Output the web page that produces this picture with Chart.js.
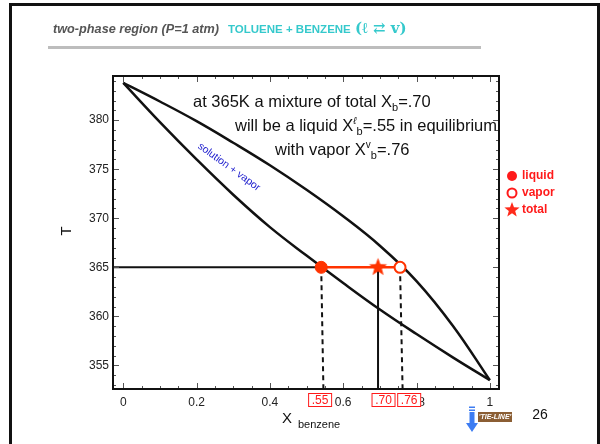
<!DOCTYPE html>
<html>
<head>
<meta charset="utf-8">
<script src="https://cdn.jsdelivr.net/npm/chart.js@4.4.1/dist/chart.umd.min.js"></script>
<style>
  html, body { margin: 0; padding: 0; background: #fff; }
  #wrap { width: 600px; height: 444px; }
</style>
</head>
<body>
<div id="wrap"><canvas id="myChart" width="600" height="444"></canvas></div>
<script>
// composition grid (mole fraction benzene) and the two curves
const xBenzene = [0, 0.1, 0.2, 0.3, 0.4, 0.5, 0.6, 0.7, 0.8, 0.9, 1.0];
const tLiquid  = [383.8, 379.8, 376.0, 372.4, 369.1, 366.2, 363.4, 360.7, 358.2, 355.8, 353.5];
const tVapor   = [383.8, 381.9, 379.9, 377.7, 375.4, 372.9, 370.2, 367.2, 363.6, 359.0, 353.5];

// tie-line at 365 K
const tieT = 365;
const xLiq = 0.54;
const xTot = 0.695;
const xVap = 0.755;
const boxLabels = ['.55', '.70', '.76'];
const boxX = [0.537, 0.71, 0.78];

const xTicks = [0, 0.2, 0.4, 0.6, 0.8, 1];
const yTicks = [355, 360, 365, 370, 375, 380];
const xMin = -0.028, xMax = 1.025;
const yMin = 352.6, yMax = 384.5;

const RED = '#ff3300';
const FONT = '"Liberation Sans", Arial, sans-serif';

function pts(xs, ys) {
  return xs.map((v, i) => ({ x: v, y: ys[i] }));
}

// filled 5 point star for the "total" marker
function makeStar(r, color) {
  const c = document.createElement('canvas');
  c.width = c.height = r * 2 + 2;
  const g = c.getContext('2d');
  g.translate(r + 1, r + 1);
  g.beginPath();
  for (let i = 0; i < 10; i++) {
    const rr = i % 2 === 0 ? r : r * 0.42;
    const a = -Math.PI / 2 + i * Math.PI / 5;
    g.lineTo(rr * Math.cos(a), rr * Math.sin(a));
  }
  g.closePath();
  g.fillStyle = color;
  g.fill();
  return c;
}
const starImg = makeStar(9.5, RED);
const starSmall = makeStar(8, '#ff2a1a');

const decor = {
  id: 'decor',
  beforeDraw(chart) {
    const ctx = chart.ctx;
    ctx.save();
    ctx.fillStyle = '#fff';
    ctx.fillRect(0, 0, 600, 444);
    // slide border
    ctx.fillStyle = '#111';
    ctx.fillRect(9, 3, 591, 3);
    ctx.fillRect(9, 3, 3, 441);
    ctx.fillRect(597, 3, 3, 441);
    // title
    ctx.textBaseline = 'alphabetic';
    ctx.textAlign = 'left';
    ctx.fillStyle = '#555';
    ctx.font = 'italic bold 12.7px ' + FONT;
    ctx.fillText('two-phase region (P=1 atm)', 53, 33);
    ctx.fillStyle = '#35c9cc';
    ctx.font = 'bold 11.5px ' + FONT;
    ctx.fillText('TOLUENE + BENZENE', 228, 33);
    ctx.font = 'bold 15px "DejaVu Serif", serif';
    ctx.fillText('(\u2113 \u21c4 v)', 355, 33);
    ctx.fillStyle = '#bdbdbd';
    ctx.fillRect(48, 46, 433, 3);
    ctx.restore();
  },
  afterDraw(chart) {
    const { ctx, chartArea: a, scales: { x, y } } = chart;
    ctx.save();
    // inward ticks on all four sides
    ctx.strokeStyle = '#555';
    ctx.lineWidth = 1;
    ctx.beginPath();
    for (let k = 0; k <= 20; k++) {
      const px = Math.round(x.getPixelForValue(k * 0.05)) + 0.5;
      const len = k % 4 === 0 ? 6 : 3;
      ctx.moveTo(px, a.bottom); ctx.lineTo(px, a.bottom - len);
      ctx.moveTo(px, a.top); ctx.lineTo(px, a.top + len);
    }
    for (let t = 353; t <= 384; t++) {
      const py = Math.round(y.getPixelForValue(t)) + 0.5;
      const len = t % 5 === 0 ? 6 : 3;
      ctx.moveTo(a.left, py); ctx.lineTo(a.left + len, py);
      ctx.moveTo(a.right, py); ctx.lineTo(a.right - len, py);
    }
    ctx.stroke();
    // frame
    ctx.strokeStyle = '#111';
    ctx.lineWidth = 2;
    ctx.strokeRect(a.left, a.top, a.right - a.left, a.bottom - a.top);

    // annotation text
    ctx.fillStyle = '#111';
    ctx.textAlign = 'left';
    ctx.textBaseline = 'alphabetic';
    const big = '16.5px ' + FONT, small = '11px ' + FONT;
    function run(parts, x0, y0) {
      let cx = x0;
      parts.forEach(p => {
        ctx.font = p.f || big;
        ctx.fillText(p.t, cx, y0 + (p.dy || 0));
        cx += ctx.measureText(p.t).width;
      });
    }
    run([{ t: 'at 365K a mixture of total X' }, { t: 'b', f: small, dy: 4 }, { t: '=.70' }], 193, 107);
    run([{ t: 'will be a liquid X' }, { t: '\u2113', f: 'italic 10px ' + FONT, dy: -7 }, { t: 'b', f: small, dy: 4 }, { t: '=.55 in equilibrium' }], 235, 131);
    run([{ t: 'with vapor X' }, { t: 'v', f: '10px ' + FONT, dy: -7 }, { t: 'b', f: small, dy: 4 }, { t: '=.76' }], 275, 155);

    // region label
    ctx.save();
    ctx.translate(229, 167);
    ctx.rotate(36 * Math.PI / 180);
    ctx.fillStyle = '#1a1acc';
    ctx.font = '10.5px ' + FONT;
    ctx.textAlign = 'center';
    ctx.textBaseline = 'middle';
    ctx.fillText('solution + vapor', 0, 0);
    ctx.restore();

    // boxed composition labels under the axis
    ctx.font = '12px ' + FONT;
    ctx.textAlign = 'center';
    ctx.textBaseline = 'middle';
    boxLabels.forEach((lab, i) => {
      const cx = x.getPixelForValue(boxX[i]);
      ctx.fillStyle = '#fff';
      ctx.fillRect(cx - 12, 393, 24, 14);
      ctx.strokeStyle = '#ff1a1a';
      ctx.lineWidth = 1;
      ctx.strokeRect(cx - 12 + 0.5, 393.5, 23, 13);
      ctx.fillStyle = '#ff1a1a';
      ctx.fillText(lab, cx, 400.5);
    });

    // axis titles
    ctx.fillStyle = '#111';
    ctx.textAlign = 'left';
    ctx.textBaseline = 'alphabetic';
    ctx.font = '15px ' + FONT;
    ctx.fillText('X', 282, 423);
    ctx.font = '11px ' + FONT;
    ctx.fillText('benzene', 298, 428);
    ctx.save();
    ctx.translate(67, 231);
    ctx.rotate(-Math.PI / 2);
    ctx.font = '15px ' + FONT;
    ctx.textAlign = 'center';
    ctx.textBaseline = 'middle';
    ctx.fillText('T', 0, 0);
    ctx.restore();

    // legend
    ctx.fillStyle = '#ff1a1a';
    ctx.strokeStyle = '#ff1a1a';
    ctx.beginPath(); ctx.arc(512, 176, 5, 0, Math.PI * 2); ctx.fill();
    ctx.lineWidth = 2;
    ctx.beginPath(); ctx.arc(512, 193, 4.5, 0, Math.PI * 2); ctx.stroke();
    ctx.drawImage(starSmall, 512 - 9, 210 - 9);
    ctx.font = 'bold 12px ' + FONT;
    ctx.textBaseline = 'middle';
    ctx.fillText('liquid', 522, 176);
    ctx.fillText('vapor', 522, 193);
    ctx.fillText('total', 522, 210);

    // page footer: arrow, tag, page number
    ctx.fillStyle = '#3d7cf2';
    ctx.fillRect(469, 406.5, 6, 1.5);
    ctx.fillRect(469, 409.5, 6, 1.5);
    ctx.fillRect(469.5, 412, 5, 12);
    ctx.beginPath();
    ctx.moveTo(466, 423); ctx.lineTo(478, 423); ctx.lineTo(472, 432); ctx.closePath();
    ctx.fill();
    ctx.fillStyle = '#8b5e34';
    ctx.fillRect(478, 412, 34, 10);
    ctx.fillStyle = '#fff';
    ctx.font = 'italic bold 7px ' + FONT;
    ctx.textAlign = 'center';
    ctx.fillText("'TIE-LINE'", 495, 417.5);
    ctx.fillStyle = '#111';
    ctx.font = '14px ' + FONT;
    ctx.fillText('26', 540, 415);
    ctx.restore();
  }
};

const myChart = document.getElementById('myChart');
new Chart(myChart, {
  type: 'scatter',
  data: {
    datasets: [
      { // total
        data: [{ x: xTot, y: tieT }],
        pointStyle: starImg, pointRadius: 9, showLine: false
      },
      { // vapor end
        data: [{ x: xVap, y: tieT }],
        pointRadius: 5.5, pointBackgroundColor: '#fff', pointBorderColor: RED, pointBorderWidth: 2, showLine: false
      },
      { // liquid end
        data: [{ x: xLiq, y: tieT }],
        pointRadius: 6, pointBackgroundColor: RED, pointBorderColor: RED, showLine: false
      },
      { // tie-line
        data: [{ x: xLiq, y: tieT }, { x: xVap, y: tieT }],
        showLine: true, borderColor: RED, borderWidth: 2.5, pointRadius: 0
      },
      { // isotherm to the axis
        data: [{ x: xMin, y: tieT }, { x: xLiq, y: tieT }],
        showLine: true, borderColor: '#111', borderWidth: 2, pointRadius: 0
      },
      { // total composition drop line
        data: [{ x: xTot, y: tieT }, { x: xTot, y: yMin }],
        showLine: true, borderColor: '#111', borderWidth: 2, pointRadius: 0
      },
      { // liquid drop line
        data: [{ x: xLiq, y: tieT }, { x: xLiq + 0.006, y: yMin }],
        showLine: true, borderColor: '#111', borderWidth: 2, borderDash: [5, 4], pointRadius: 0
      },
      { // vapor drop line
        data: [{ x: xVap, y: tieT }, { x: xVap + 0.007, y: yMin }],
        showLine: true, borderColor: '#111', borderWidth: 2, borderDash: [5, 4], pointRadius: 0
      },
      { // liquid (bubble) curve
        data: pts(xBenzene, tLiquid),
        showLine: true, borderColor: '#111', borderWidth: 2.5, pointRadius: 0, tension: 0.4
      },
      { // vapor (dew) curve
        data: pts(xBenzene, tVapor),
        showLine: true, borderColor: '#111', borderWidth: 2.5, pointRadius: 0, tension: 0.4
      }
    ]
  },
  options: {
    responsive: false,
    animation: false,
    events: [],
    layout: { padding: { left: 0, top: 76, right: 101, bottom: 0 } },
    plugins: { legend: { display: false }, tooltip: { enabled: false } },
    scales: {
      x: {
        type: 'linear', min: xMin, max: xMax,
        grid: { display: false, drawTicks: false }, border: { display: false },
        afterBuildTicks: s => { s.ticks = xTicks.map(v => ({ value: v })); },
        afterFit: s => { s.height = 55; },
        ticks: { padding: 6, color: '#222', font: { family: FONT, size: 12 }, callback: v => String(v) }
      },
      y: {
        type: 'linear', min: yMin, max: yMax,
        grid: { display: false, drawTicks: false }, border: { display: false },
        afterBuildTicks: s => { s.ticks = yTicks.map(v => ({ value: v })); },
        afterFit: s => { s.width = 113; },
        ticks: { padding: 4, color: '#222', font: { family: FONT, size: 12 } }
      }
    }
  },
  plugins: [decor]
});
</script>
</body>
</html>
